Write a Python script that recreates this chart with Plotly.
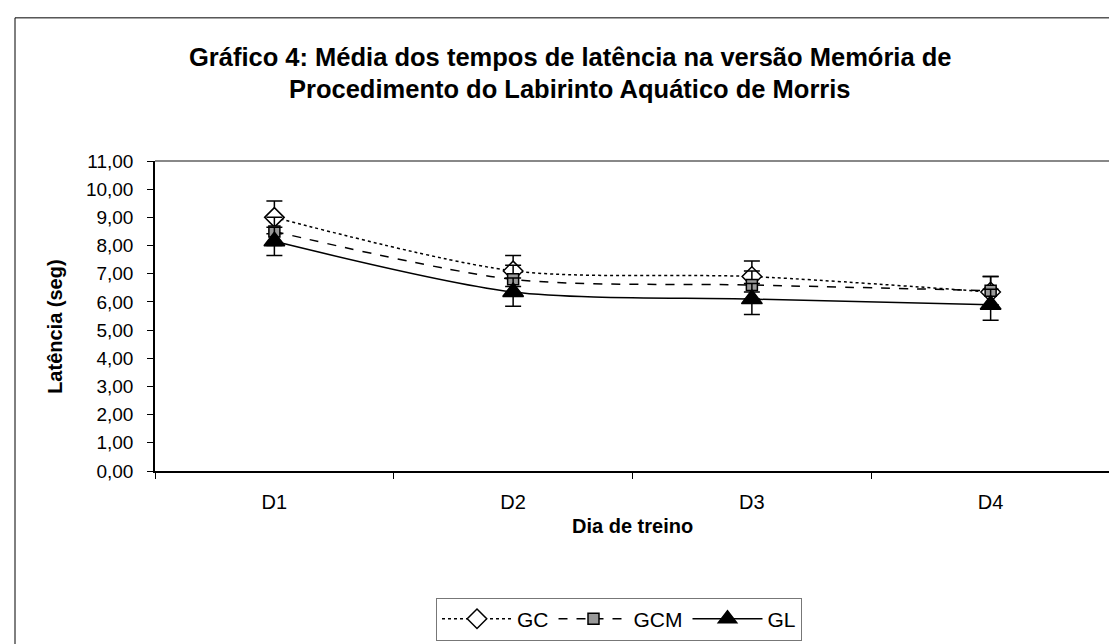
import plotly.graph_objects as go

days = ["D1", "D2", "D3", "D4"]
gc = [9.00, 7.10, 6.90, 6.35]
gc_err = [0.58, 0.55, 0.55, 0.55]
gcm = [8.50, 6.80, 6.60, 6.40]
gcm_err = [0.50, 0.50, 0.50, 0.50]
gl = [8.15, 6.35, 6.10, 5.90]
gl_err = [0.50, 0.50, 0.55, 0.55]
y_ticks = list(range(0, 12))

W, H = 1117, 644
L, R, T, B = 147, 15, 153, 177
pw, ph = W - L - R, H - T - B

FONT = "Liberation Sans, Arial, sans-serif"

fig = go.Figure()

def add(name, y, err, dash, symbol, size, fill):
    fig.add_trace(go.Scatter(
        x=days, y=y, name=name, mode="lines+markers",
        line=dict(color="black", width=1.5, dash=dash, shape="spline", smoothing=0.8),
        marker=dict(symbol=symbol, size=size, color=fill, line=dict(color="black", width=1.5)),
        error_y=dict(type="data", array=err, visible=True, color="black", thickness=1.5, width=8),
    ))

add("GC", gc, gc_err, "dot", "diamond", 15, "white")
add("GCM", gcm, gcm_err, "dash", "square", 11, "#999999")
add("GL", gl, gl_err, "solid", "triangle-up", 18, "black")

def px_x(p):
    return (p - L) / pw

def px_y(p):
    return (H - B - p) / ph

shapes = [
    dict(type="line", xref="paper", yref="paper", x0=0, x1=1, y0=1, y1=1, line=dict(color="#888888", width=2)),
    dict(type="line", xref="paper", yref="paper", x0=1, x1=1, y0=0, y1=1, line=dict(color="#888888", width=2)),
    dict(type="rect", xref="paper", yref="paper", x0=px_x(7), x1=px_x(1112), y0=px_y(8), y1=px_y(643),
         line=dict(color="black", width=1)),
]

fig.update_layout(
    width=W, height=H,
    margin=dict(l=L, r=R, t=T, b=B),
    paper_bgcolor="white", plot_bgcolor="white",
    separators=",.",
    font=dict(family=FONT, color="black", size=19),
    showlegend=True,
    legend=dict(orientation="h", x=px_x(611), xanchor="center", y=px_y(617), yanchor="middle",
                bordercolor="#777777", borderwidth=1, font=dict(size=21), itemwidth=70,
                traceorder="normal"),
    shapes=shapes,
    annotations=[
        dict(text="<b>Gráfico 4: Média dos tempos de latência na versão Memória de</b>", xref="paper", yref="paper",
             x=px_x(562), y=px_y(48), xanchor="center", yanchor="middle", showarrow=False, font=dict(size=25.5)),
        dict(text="<b>Procedimento do Labirinto Aquático de Morris</b>", xref="paper", yref="paper",
             x=px_x(562), y=px_y(80), xanchor="center", yanchor="middle", showarrow=False, font=dict(size=25.5)),
        dict(text="<b>Dia de treino</b>", xref="paper", yref="paper",
             x=0.5, y=px_y(523), xanchor="center", yanchor="middle", showarrow=False, font=dict(size=20)),
        dict(text="<b>Latência (seg)</b>", xref="paper", yref="paper", textangle=-90,
             x=px_x(47), y=px_y(321), xanchor="center", yanchor="middle", showarrow=False, font=dict(size=20)),
    ],
    xaxis=dict(type="category", range=[-0.5, 3.5], tickson="boundaries", ticks="outside", ticklen=6,
               tickcolor="black", showline=True, linecolor="black", linewidth=1.5, showgrid=False,
               zeroline=False, tickfont=dict(size=20), ticklabelstandoff=12),
    yaxis=dict(range=[0, 11], tickvals=y_ticks, tickformat=".2f", ticks="outside", ticklen=6,
               tickcolor="black", showline=True, linecolor="black", linewidth=1.5, showgrid=False,
               zeroline=False, tickfont=dict(size=19), ticklabelstandoff=10),
)

fig.write_html("out.html")
